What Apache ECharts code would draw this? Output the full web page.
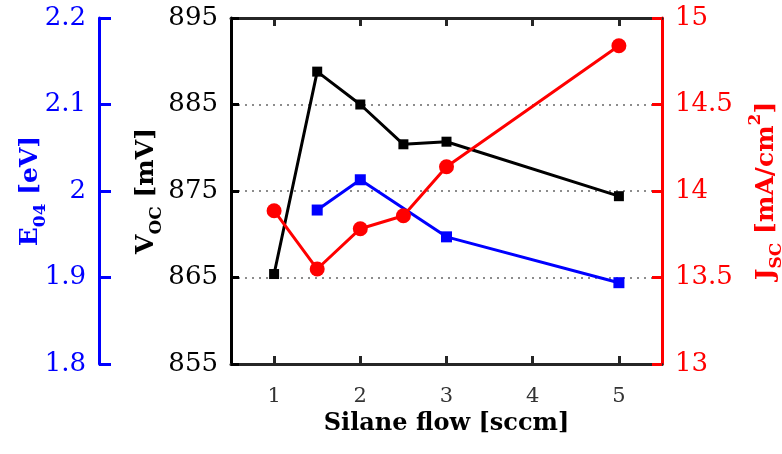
<!DOCTYPE html>
<html><head><meta charset="utf-8">
<script src="https://cdn.jsdelivr.net/npm/echarts@6/dist/echarts.min.js"></script>
<style>html,body{margin:0;padding:0;background:#fff}#c{width:782px;height:454px}</style>
</head><body><div id="c"></div>
<script>
// Data
const silaneFlow = [1, 1.5, 2, 2.5, 3, 5];
const vocValues = [865.4, 888.8, 885.0, 880.4, 880.7, 874.4];
const e04Flow = [1.5, 2, 3, 5];
const e04Values = [1.978, 2.013, 1.947, 1.894];
const jscValues = [13.886, 13.549, 13.782, 13.857, 14.14, 14.84];
const xTicks = [1, 2, 3, 4, 5];
const vocTicks = [855, 865, 875, 885, 895];

const F = 'DejaVu Serif';
const chart = echarts.init(document.getElementById('c'));
function nameRich(color) {
  return {
    b: {fontFamily: F, fontWeight: 'bold', fontSize: 25, color: color, verticalAlign: 'bottom', padding: [0,0,6,0]},
    sub: {fontFamily: F, fontWeight: 'bold', fontSize: 17, color: color, verticalAlign: 'bottom', padding: [0,0,0,0]},
    sup: {fontFamily: F, fontWeight: 'bold', fontSize: 17, color: color, verticalAlign: 'bottom', padding: [0,0,21,0]}
  };
}
const xBase = {
  type: 'value', min: 0.5, max: 5.5,
  axisLine: {show: true, lineStyle: {color: '#262626', width: 3}},
  axisTick: {show: true, inside: true, length: 8, lineStyle: {color: '#262626', width: 3}, customValues: xTicks},
  splitLine: {show: false}
};
chart.setOption({
  animation: false,
  grid: {left: 231, right: 120, top: 18, bottom: 90, outerBoundsMode: 'none', containLabel: false},
  xAxis: [
    Object.assign({}, xBase, {
      position: 'bottom',
      axisLabel: {customValues: xTicks, fontFamily: F, fontSize: 21, color: '#333', margin: 22},
      name: 'Silane flow [sccm]', nameLocation: 'middle', nameGap: 48, nameMoveOverlap: false,
      nameTextStyle: {fontFamily: F, fontWeight: 'bold', fontSize: 24, color: '#000'}
    }),
    Object.assign({}, xBase, {position: 'top', axisLabel: {show: false}})
  ],
  yAxis: [
    {
      type: 'value', position: 'left', min: 855, max: 895,
      axisLine: {show: true, lineStyle: {color: '#000', width: 3}},
      axisTick: {show: true, inside: true, length: 8, lineStyle: {color: '#000', width: 3}, customValues: vocTicks},
      axisLabel: {customValues: vocTicks, fontFamily: F, fontSize: 26, color: '#000', margin: 13},
      splitLine: {show: false},
      name: '{b|V}{sub|OC}{b| [mV]}', nameLocation: 'middle', nameRotate: 90, nameGap: 66, nameMoveOverlap: false,
      nameTextStyle: {rich: nameRich('#000')}
    },
    {
      type: 'value', position: 'left', offset: 132, min: 1.8, max: 2.2, interval: 0.1,
      axisLine: {show: true, lineStyle: {color: '#0000ff', width: 3}},
      axisTick: {show: true, inside: true, length: 12, lineStyle: {color: '#0000ff', width: 3}},
      axisLabel: {fontFamily: F, fontSize: 26, color: '#0000ff', margin: 13},
      splitLine: {show: false},
      name: '{b|E}{sub|04}{b| [eV]}', nameLocation: 'middle', nameRotate: 90, nameGap: 50, nameMoveOverlap: false,
      nameTextStyle: {rich: nameRich('#0000ff')}
    },
    {
      type: 'value', position: 'right', min: 13, max: 15, interval: 0.5,
      axisLine: {show: true, lineStyle: {color: '#ff0000', width: 3}},
      axisTick: {show: true, inside: true, length: 10, lineStyle: {color: '#ff0000', width: 3}},
      axisLabel: {fontFamily: F, fontSize: 26, color: '#ff0000', margin: 13},
      splitLine: {show: true, showMinLine: false, showMaxLine: false, lineStyle: {color: '#8c8c8c', width: 2, type: [2, 5]}},
      name: '{b|J}{sub|SC}{b| [mA/cm}{sup|2}{b|]}', nameLocation: 'middle', nameRotate: 90, nameGap: 85, nameMoveOverlap: false,
      nameTextStyle: {rich: nameRich('#ff0000')}
    }
  ],
  series: [
    {
      type: 'line', yAxisIndex: 1, data: e04Flow.map((x, i) => [x, e04Values[i]]),
      symbol: 'rect', symbolSize: 11, color: '#0000ff',
      lineStyle: {color: '#0000ff', width: 3}, itemStyle: {color: '#0000ff'}
    },
    {
      type: 'line', yAxisIndex: 0, data: silaneFlow.map((x, i) => [x, vocValues[i]]),
      symbol: 'rect', symbolSize: 10, color: '#000',
      lineStyle: {color: '#000', width: 3}, itemStyle: {color: '#000'}
    },
    {
      type: 'line', yAxisIndex: 2, data: silaneFlow.map((x, i) => [x, jscValues[i]]),
      symbol: 'circle', symbolSize: 15, color: '#ff0000',
      lineStyle: {color: '#ff0000', width: 3}, itemStyle: {color: '#ff0000'}
    }
  ]
});
</script></body></html>
